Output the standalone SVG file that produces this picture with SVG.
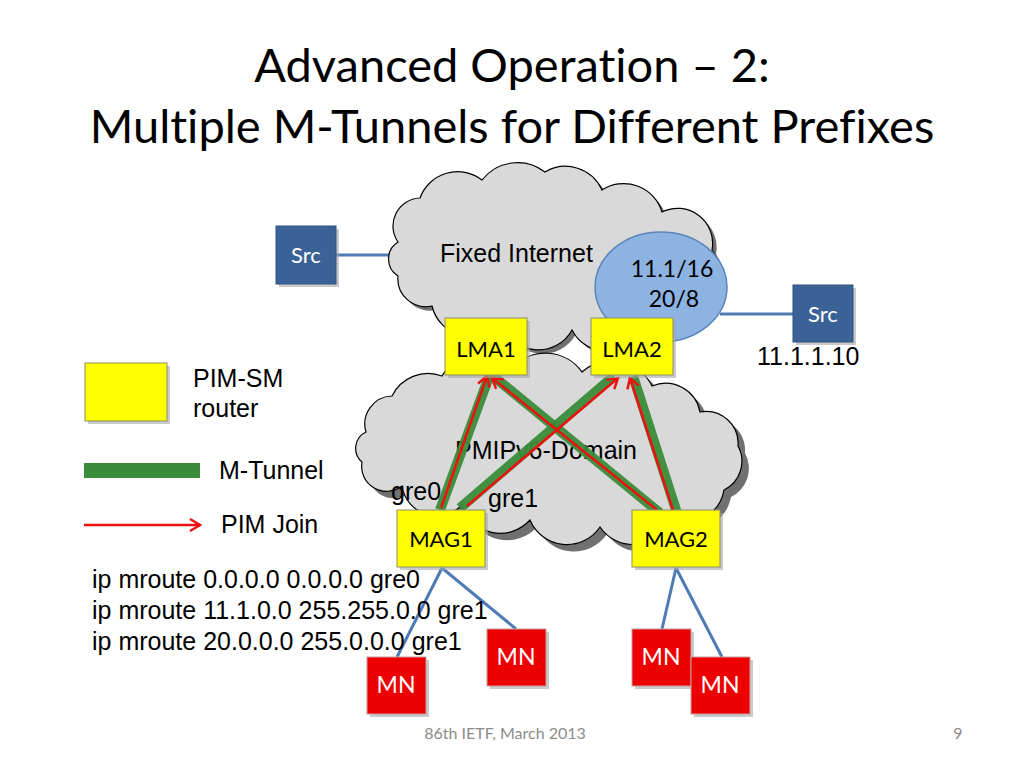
<svg xmlns="http://www.w3.org/2000/svg" width="1024" height="768" viewBox="0 0 1024 768">
<defs>
<style>
.title{font-family:Lato,"Open Sans",sans-serif;font-size:47px;fill:#000;text-anchor:middle;font-variant-ligatures:none}
.cal{font-family:Lato,"Open Sans",sans-serif;text-anchor:middle;font-variant-ligatures:none}
.ar{font-family:"Liberation Sans",Arial,sans-serif;fill:#000;font-size:25px}
.cloud{fill:#d9d9d9;stroke:#000;stroke-width:1.2}
.shadow{fill:#404040;opacity:0.75}
.ybox{fill:#ffff00;stroke:#8c8c6a;stroke-width:1}
.bbox{fill:#3a6297;stroke:#30507c;stroke-width:1}
.rbox{fill:#ee0000;stroke:#c4a0a0;stroke-width:1}
.bsh{fill:#a6a6a6;opacity:0.6}
.link{stroke:#4f7bb5;stroke-width:3;fill:none}
.tun{stroke:#3a8c3a;stroke-width:10;fill:none;opacity:0.95}
.join{stroke:#ee1111;stroke-width:2.5;fill:none;marker-end:url(#ah)}
</style>
<marker id="ah" markerUnits="userSpaceOnUse" markerWidth="16" markerHeight="16" refX="12" refY="8" orient="auto">
<path d="M2,2 L12,8 L2,14" fill="none" stroke="#ee1111" stroke-width="2.5"/>
</marker>
</defs>
<rect width="1024" height="768" fill="#fff"/>

<text class="title" x="512" y="82">Advanced Operation – 2:</text>
<text class="title" x="512" y="143">Multiple M-Tunnels for Different Prefixes</text>

<g id="connectors">
<line class="link" x1="336" y1="255" x2="395" y2="255"/>
<line class="link" x1="720" y1="314" x2="793" y2="314"/>
<line class="link" x1="442" y1="568" x2="397" y2="657"/>
<line class="link" x1="442" y1="568" x2="516" y2="629"/>
<line class="link" x1="676" y1="568" x2="662" y2="629"/>
<line class="link" x1="676" y1="568" x2="722" y2="657"/>
</g>

<g id="fixed-internet">
<path class="shadow" opacity="0.5" transform="translate(4,4)" d="M398 242 A28 28 0 0 1 420 198 A40 40 0 0 1 482 180 A45 45 0 0 1 545 172 A40 40 0 0 1 602 190 A40 40 0 0 1 662 212 A35 35 0 0 1 712 250 A35 35 0 0 1 702 300 A40 40 0 0 1 642 325 A38 38 0 0 1 572 330 A38 38 0 0 1 502 322 A40 40 0 0 1 432 306 A28 28 0 0 1 398 276 A20 20 0 0 1 398 242 Z"/>
<path class="cloud" d="M398 242 A28 28 0 0 1 420 198 A40 40 0 0 1 482 180 A45 45 0 0 1 545 172 A40 40 0 0 1 602 190 A40 40 0 0 1 662 212 A35 35 0 0 1 712 250 A35 35 0 0 1 702 300 A40 40 0 0 1 642 325 A38 38 0 0 1 572 330 A38 38 0 0 1 502 322 A40 40 0 0 1 432 306 A28 28 0 0 1 398 276 A20 20 0 0 1 398 242 Z"/>
<text class="ar" x="440" y="262">Fixed Internet</text>
</g>

<g id="prefix-ellipse">
<ellipse cx="661" cy="287" rx="66" ry="55" fill="#8db3e2" stroke="#5b84ba" stroke-width="1.5"/>
<text class="cal" x="672" y="277" font-size="23">11.1/16</text>
<text class="cal" x="674" y="307" font-size="23">20/8</text>
</g>

<g id="src-left">
<rect class="bsh" x="279" y="229" width="60" height="58"/>
<rect class="bbox" x="276" y="226" width="60" height="58"/>
<text class="cal" x="306" y="263" font-size="22" fill="#fff">Src</text>
</g>

<g id="src-right">
<rect class="bsh" x="796" y="288" width="60" height="57"/>
<rect class="bbox" x="793" y="285" width="60" height="57"/>
<text class="cal" x="823" y="322" font-size="22" fill="#fff">Src</text>
<text class="ar" x="757" y="365">11.1.1.10</text>
</g>

<g id="pmipv6-domain">
<path class="shadow" transform="translate(7,7)" d="M366 432 A28 28 0 0 1 392 396 A40 40 0 0 1 442 376 A45 45 0 0 1 512 368 A45 45 0 0 1 582 372 A45 45 0 0 1 652 386 A35 35 0 0 1 700 412 A32 32 0 0 1 738 446 A32 32 0 0 1 724 490 A40 40 0 0 1 670 520 A40 40 0 0 1 600 527 A40 40 0 0 1 530 520 A40 40 0 0 1 462 505 A35 35 0 0 1 402 486 A25 25 0 0 1 362 462 A18 18 0 0 1 366 432 Z"/>
<path class="cloud" d="M366 432 A28 28 0 0 1 392 396 A40 40 0 0 1 442 376 A45 45 0 0 1 512 368 A45 45 0 0 1 582 372 A45 45 0 0 1 652 386 A35 35 0 0 1 700 412 A32 32 0 0 1 738 446 A32 32 0 0 1 724 490 A40 40 0 0 1 670 520 A40 40 0 0 1 600 527 A40 40 0 0 1 530 520 A40 40 0 0 1 462 505 A35 35 0 0 1 402 486 A25 25 0 0 1 362 462 A18 18 0 0 1 366 432 Z"/>
<text class="ar" x="455" y="459">PMIPv6-Domain</text>
</g>

<g id="tunnels">
<line class="tun" x1="440" y1="510" x2="490" y2="374"/>
<line class="tun" x1="460" y1="508" x2="614" y2="376"/>
<line class="tun" x1="660" y1="513" x2="493" y2="376"/>
<line class="tun" x1="677" y1="513" x2="633" y2="376"/>
<line class="join" x1="441" y1="508" x2="487" y2="376"/>
<line class="join" x1="467" y1="506" x2="618" y2="378"/>
<line class="join" x1="657" y1="510" x2="492" y2="378"/>
<line class="join" x1="673" y1="510" x2="630" y2="378"/>
</g>

<g id="lma1">
<rect class="bsh" x="448" y="321" width="82" height="57"/>
<rect class="ybox" x="445" y="318" width="82" height="57"/>
<text class="cal" x="486" y="357" font-size="22">LMA1</text>
</g>
<g id="lma2">
<rect class="bsh" x="594" y="321" width="82" height="57"/>
<rect class="ybox" x="591" y="318" width="82" height="57"/>
<text class="cal" x="632" y="357" font-size="22">LMA2</text>
</g>

<text class="ar" x="391" y="500">gre0</text>
<text class="ar" x="488" y="507">gre1</text>

<g id="mag1">
<rect class="bsh" x="400" y="513" width="88" height="57"/>
<rect class="ybox" x="397" y="510" width="88" height="57"/>
<text class="cal" x="441" y="547" font-size="22">MAG1</text>
</g>
<g id="mag2">
<rect class="bsh" x="635" y="513" width="88" height="57"/>
<rect class="ybox" x="632" y="510" width="88" height="57"/>
<text class="cal" x="676" y="547" font-size="22">MAG2</text>
</g>

<g id="legend">
<rect class="bsh" x="88" y="366" width="82" height="58"/>
<rect class="ybox" x="85" y="363" width="82" height="58"/>
<text class="ar" x="193" y="387">PIM-SM</text>
<text class="ar" x="193" y="417">router</text>
<rect x="84" y="463" width="116" height="15" fill="#3a8c3a"/>
<text class="ar" x="219" y="479">M-Tunnel</text>
<line class="join" x1="84" y1="525" x2="200" y2="525"/>
<text class="ar" x="221" y="533">PIM Join</text>
</g>

<g id="routes">
<text class="ar" x="92" y="588">ip mroute 0.0.0.0 0.0.0.0 gre0</text>
<text class="ar" x="92" y="619">ip mroute 11.1.0.0 255.255.0.0 gre1</text>
<text class="ar" x="92" y="650">ip mroute 20.0.0.0 255.0.0.0 gre1</text>
</g>

<g id="mn1">
<rect class="bsh" x="370" y="660" width="59" height="57"/>
<rect class="rbox" x="367" y="657" width="59" height="57"/>
<text class="cal" x="396" y="693" font-size="23" fill="#fff">MN</text>
</g>
<g id="mn2">
<rect class="bsh" x="490" y="632" width="59" height="57"/>
<rect class="rbox" x="487" y="629" width="59" height="57"/>
<text class="cal" x="516" y="665" font-size="23" fill="#fff">MN</text>
</g>
<g id="mn3">
<rect class="bsh" x="635" y="632" width="59" height="57"/>
<rect class="rbox" x="632" y="629" width="59" height="57"/>
<text class="cal" x="661" y="665" font-size="23" fill="#fff">MN</text>
</g>
<g id="mn4">
<rect class="bsh" x="694" y="660" width="59" height="57"/>
<rect class="rbox" x="691" y="657" width="59" height="57"/>
<text class="cal" x="720" y="693" font-size="23" fill="#fff">MN</text>
</g>

<text class="cal" x="505" y="739" font-size="16" fill="#8c8c8c">86th IETF, March 2013</text>
<text class="cal" x="958" y="739" font-size="16" fill="#8c8c8c">9</text>
</svg>
